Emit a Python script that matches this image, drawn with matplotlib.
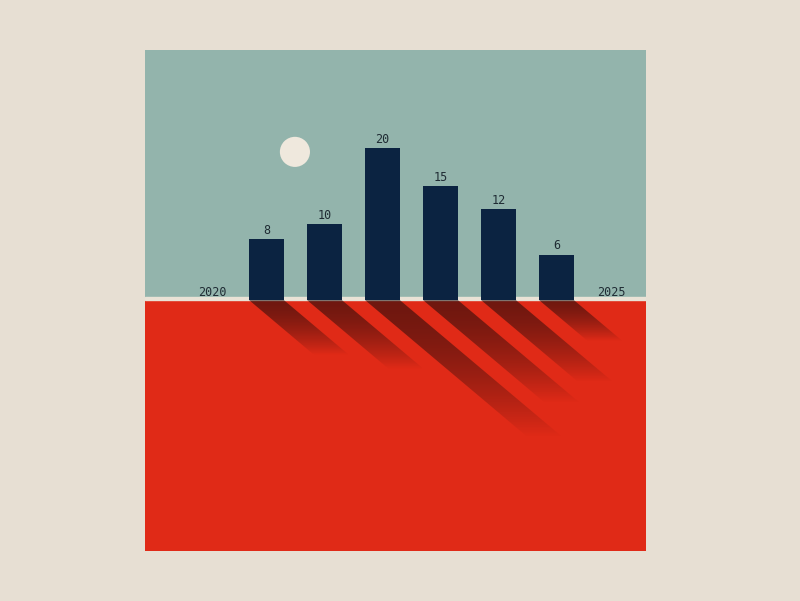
import matplotlib
matplotlib.use("Agg")
import matplotlib.pyplot as plt
import numpy as np
from matplotlib.patches import Polygon

# values
values = [8, 10, 20, 15, 12, 6]
start_label = "2020"
end_label = "2025"

bg = "#e7dfd3"
sky = "#93b4ac"
ground = "#e02a17"
bar_color = "#0b2341"
text_color = "#1f2b33"

fig = plt.figure(figsize=(8, 6.01), dpi=100)
fig.patch.set_facecolor(bg)
ax = fig.add_axes([145 / 800, 50 / 601, 501 / 800, 501 / 601])
ax.set_xlim(-2.095, 6.543)
ax.set_ylim(-33.0, 32.9)
ax.axis("off")

# sky and ground
ax.axhspan(0, 40, color=sky, zorder=0)
ax.axhspan(-40, 0, color=ground, zorder=0)
ax.axhspan(0, 0.38, color="#e9e2d6", zorder=1)

x = list(range(len(values)))
w = 0.6

# soft shadows falling down-right from each bar (gradient clipped to a parallelogram)
t = np.linspace(0, 1, 200)
alpha = 0.58 * (1 - t ** 1.6)
grad = np.zeros((200, 2, 4))
grad[..., 0] = 0.11
grad[..., 1] = 0.04
grad[..., 2] = 0.04
grad[..., 3] = alpha[:, None]
for xi, v in zip(x, values):
    dx = 0.14 * v
    dy = 0.9 * v
    pts = [(xi - w / 2, 0), (xi + w / 2, 0), (xi + w / 2 + dx, -dy), (xi - w / 2 + dx, -dy)]
    poly = Polygon(pts, closed=True, facecolor="none", edgecolor="none")
    ax.add_patch(poly)
    im = ax.imshow(grad, extent=(xi - w / 2, xi + w / 2 + dx, -dy, 0), origin="upper",
                   aspect="auto", interpolation="bilinear", zorder=2)
    im.set_clip_path(poly)

ax.set_xlim(-2.095, 6.543)
ax.set_ylim(-33.0, 32.9)

bars = ax.bar(x, values, width=w, color=bar_color, zorder=3)
for xi, v in zip(x, values):
    ax.annotate(str(v), (xi, v), xytext=(0, 1.5), textcoords="offset points",
                ha="center", va="bottom", fontsize=8.5, family="DejaVu Sans Mono",
                color=text_color, zorder=4)

ax.text(-0.94, 0.1, start_label, ha="center", va="bottom", fontsize=8.5,
        family="DejaVu Sans Mono", color=text_color, zorder=4)
ax.text(5.94, 0.1, end_label, ha="center", va="bottom", fontsize=8.5,
        family="DejaVu Sans Mono", color=text_color, zorder=4)

# sun
ax.scatter([0.49], [19.5], s=470, color="#efe8dd", edgecolors="none", zorder=3)

fig.savefig("out.png", dpi=100, facecolor=bg)
